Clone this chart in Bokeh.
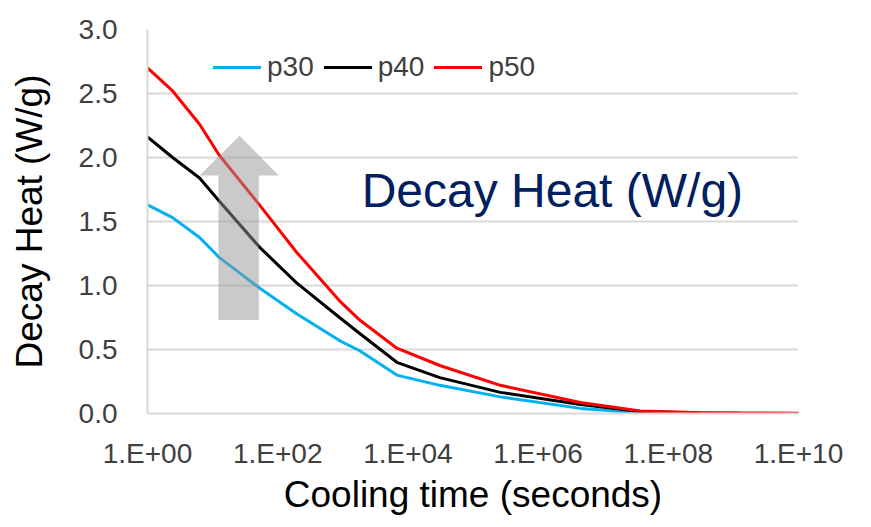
from bokeh.plotting import figure
from bokeh.models import FixedTicker, Label, Legend, LegendItem
from bokeh.embed import file_html
from bokeh.resources import INLINE

# ---- data ----
x_ticks = [1, 1e2, 1e4, 1e6, 1e8, 1e10]
x_tick_labels = ["1.E+00", "1.E+02", "1.E+04", "1.E+06", "1.E+08", "1.E+10"]
y_ticks = [0.0, 0.5, 1.0, 1.5, 2.0, 2.5, 3.0]
y_tick_labels = ["0.0", "0.5", "1.0", "1.5", "2.0", "2.5", "3.0"]

cooling_time = [1, 2.43, 6.31, 12.6, 52.5, 195, 891, 1820, 6760, 30900,
                263000, 4.47e6, 3.72e7, 3.16e8, 1.26e9, 1e10]
p30 = [1.63, 1.53, 1.375, 1.22, 0.98, 0.78, 0.57, 0.49, 0.30, 0.22, 0.13,
       0.04, 0.005]
p40 = [2.16, 2.00, 1.84, 1.66, 1.30, 1.02, 0.75, 0.625, 0.40, 0.28, 0.165,
       0.07, 0.015, 0.004, 0.002]
p50 = [2.70, 2.52, 2.26, 2.02, 1.63, 1.26, 0.88, 0.73, 0.51, 0.375, 0.22,
       0.086, 0.02, 0.005, 0.004, 0.002]
series_names = ["p30", "p40", "p50"]
series_values = [p30, p40, p50]
series_colors = ["#00b0f0", "#000000", "#ff0000"]

# block arrow annotation (data coordinates)
arrow_x = [10 ** 1.415, 10 ** 2.015, 10 ** 1.71, 10 ** 1.71, 10 ** 1.09, 10 ** 1.09, 10 ** 0.8]
arrow_y = [2.17, 1.86, 1.86, 0.73, 0.73, 1.86, 1.86]

note_text = "Decay Heat (W/g)"
note_x = 10 ** 3.29
note_y = 1.74

FONT = "Liberation Sans"

p = figure(width=871, height=527, x_axis_type="log",
           x_range=(1, 1e10), y_range=(0, 3),
           output_backend="svg", toolbar_location=None,
           min_border_left=147, min_border_right=73,
           min_border_top=29, min_border_bottom=114)
p.outline_line_color = None
p.background_fill_color = "white"
p.border_fill_color = "white"

renderers = []
for name, vals, col in zip(series_names, series_values, series_colors):
    r = p.line(cooling_time[:len(vals)], vals, line_color=col, line_width=3,
               line_join="round", line_cap="round")
    renderers.append(LegendItem(label=name, renderers=[r]))

p.patch(arrow_x, arrow_y, fill_color="#969696", fill_alpha=0.5, line_color=None)

p.add_layout(Label(x=note_x, y=note_y, text=note_text, text_font=FONT,
                   text_font_size="48px", text_color="#002060",
                   text_baseline="alphabetic", text_align="left"))

# axes
xa = p.xaxis[0]
xa.ticker = FixedTicker(ticks=x_ticks, minor_ticks=[])
xa.major_label_overrides = {t: l for t, l in zip(x_ticks, x_tick_labels)}
xa.axis_label = "Cooling time (seconds)"
ya = p.yaxis[0]
ya.ticker = FixedTicker(ticks=y_ticks, minor_ticks=[])
ya.major_label_overrides = {t: l for t, l in zip(y_ticks, y_tick_labels)}
ya.axis_label = "Decay Heat (W/g)"

for ax in (xa, ya):
    ax.axis_line_color = "#d9d9d9"
    ax.axis_line_width = 2
    ax.major_tick_line_color = None
    ax.minor_tick_line_color = None
    ax.major_tick_out = 0
    ax.major_tick_in = 0
    ax.major_label_text_font = FONT
    ax.major_label_text_font_size = "28px"
    ax.major_label_text_color = "#404040"
    ax.axis_label_text_font = FONT
    ax.axis_label_text_font_style = "normal"
    ax.axis_label_text_color = "#000000"

xa.major_label_standoff = 24
xa.axis_label_standoff = 2
xa.axis_label_text_font_size = "37px"
ya.major_label_standoff = 30
ya.axis_label_standoff = 26
ya.axis_label_text_font_size = "37px"

p.xgrid.visible = False
p.ygrid.grid_line_color = "#d9d9d9"
p.ygrid.grid_line_width = 2
p.ygrid.ticker = FixedTicker(ticks=y_ticks)

legend = Legend(items=renderers, orientation="horizontal", location=(66, 330),
                glyph_width=48, glyph_height=20, label_standoff=6, spacing=10,
                padding=0, margin=0, border_line_color=None,
                background_fill_alpha=0, label_text_font=FONT,
                label_text_font_size="28px", label_text_color="#404040")
p.add_layout(legend)

open("out.html", "w").write(file_html(p, INLINE))
